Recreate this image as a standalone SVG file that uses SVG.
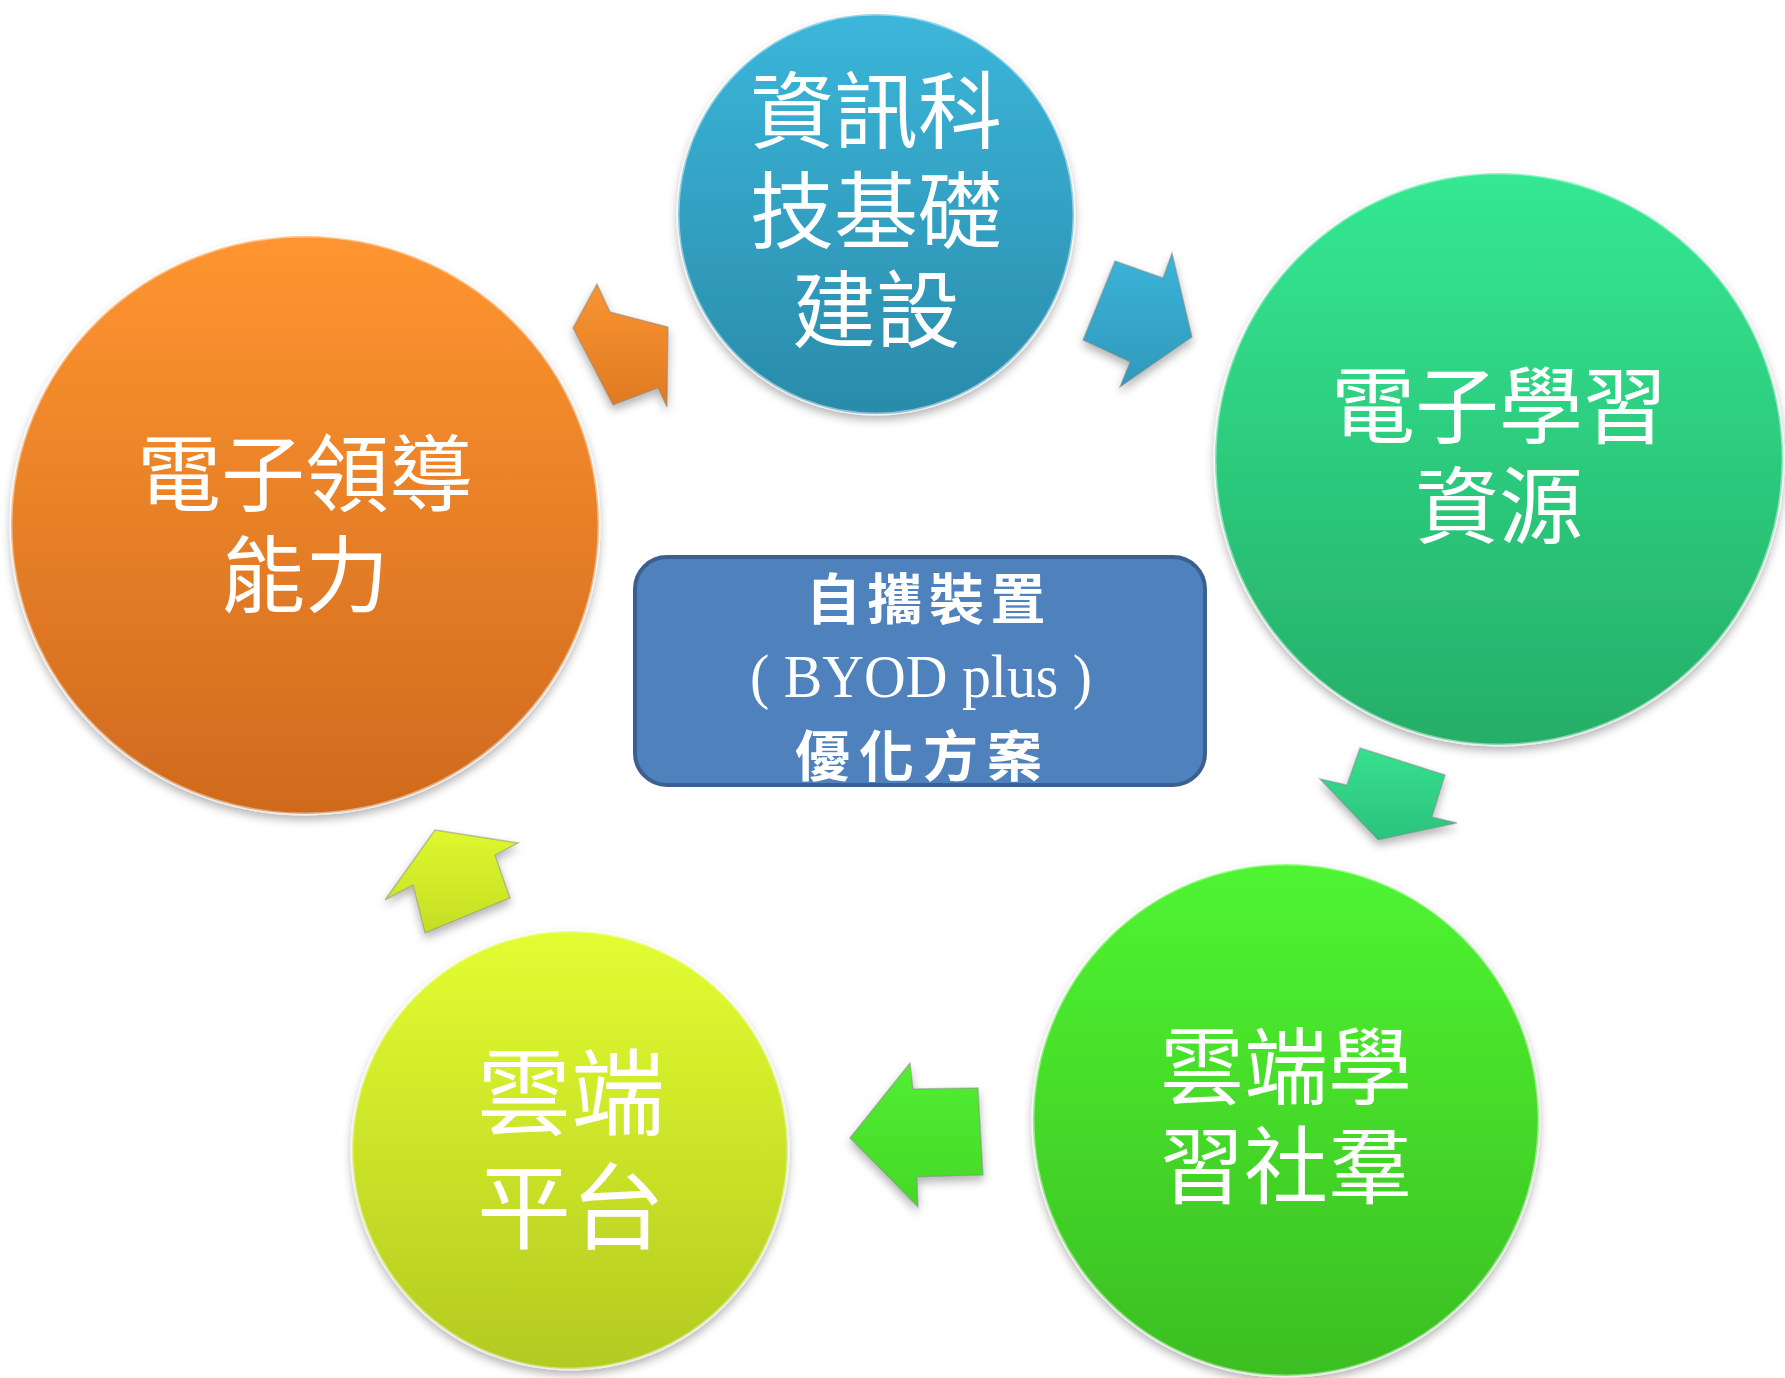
<svg xmlns="http://www.w3.org/2000/svg" width="1785" height="1378" viewBox="0 0 1785 1378">
<defs>
<linearGradient id="gBlue" x1="0" y1="0" x2="0" y2="1"><stop offset="0" stop-color="#3BB6DA"/><stop offset="1" stop-color="#2A8BAA"/></linearGradient>
<linearGradient id="gGreen" x1="0" y1="0" x2="0" y2="1"><stop offset="0" stop-color="#34E892"/><stop offset="1" stop-color="#25AE68"/></linearGradient>
<linearGradient id="gLime" x1="0" y1="0" x2="0" y2="1"><stop offset="0" stop-color="#4FF531"/><stop offset="1" stop-color="#3BBE22"/></linearGradient>
<linearGradient id="gYellow" x1="0" y1="0" x2="0" y2="1"><stop offset="0" stop-color="#E2FD31"/><stop offset="1" stop-color="#B3CA20"/></linearGradient>
<linearGradient id="gOrange" x1="0" y1="0" x2="0" y2="1"><stop offset="0" stop-color="#FF9530"/><stop offset="1" stop-color="#CF6A1E"/></linearGradient>
<linearGradient id="aOrange" x1="0" y1="0" x2="0" y2="1"><stop offset="0" stop-color="#F99433"/><stop offset="1" stop-color="#E07A22"/></linearGradient>
<linearGradient id="aBlue" x1="0" y1="0" x2="0" y2="1"><stop offset="0" stop-color="#3BB4D8"/><stop offset="1" stop-color="#3098BC"/></linearGradient>
<linearGradient id="aGreen" x1="0" y1="0" x2="0" y2="1"><stop offset="0" stop-color="#36E18F"/><stop offset="1" stop-color="#2CC27C"/></linearGradient>
<linearGradient id="aLime" x1="0" y1="0" x2="0" y2="1"><stop offset="0" stop-color="#52EE33"/><stop offset="1" stop-color="#44D826"/></linearGradient>
<linearGradient id="aYellow" x1="0" y1="0" x2="0" y2="1"><stop offset="0" stop-color="#DDF82E"/><stop offset="1" stop-color="#C4DE24"/></linearGradient>
<filter id="sh" x="-10%" y="-10%" width="120%" height="125%"><feDropShadow dx="0" dy="5" stdDeviation="5" flood-color="#000" flood-opacity="0.3"/></filter>
</defs>
<style>
.circ{stroke:#ffffff;stroke-opacity:0.45;stroke-width:3;filter:url(#sh)}
.arr{stroke:#8a8a8a;stroke-opacity:0.5;stroke-width:1.5;stroke-linejoin:miter;filter:url(#sh)}
.ct{font-family:"Liberation Sans","Noto Sans CJK TC","Noto Sans CJK SC",sans-serif;fill:#ffffff;text-anchor:middle}
.bt{font-family:"Liberation Sans","Noto Sans CJK TC","Noto Sans CJK SC",sans-serif;fill:#ffffff;font-weight:bold}
</style>
<rect width="1785" height="1378" fill="#ffffff"/>
<g id="connectors">
<polygon class="arr" fill="url(#aOrange)" points="597,284 610,312 668,327 667,407 658,388 613,405 573,328"/>
<polygon class="arr" fill="url(#aBlue)" points="1115,261 1163,278 1172,253 1192,337 1120,387 1130,362 1083,340"/>
<polygon class="arr" fill="url(#aGreen)" points="1360,748 1445,775 1432,817 1457,823 1378,840 1320,779 1347,785"/>
<polygon class="arr" fill="url(#aLime)" points="910,1063 913,1089 978,1088 983,1175 917,1177 918,1207 850,1138"/>
<polygon class="arr" fill="url(#aYellow)" points="435,830 518,843 495,855 510,898 425,933 413,885 385,900"/>
</g>
<g id="node-ict">
<ellipse class="circ" cx="876" cy="214" rx="198" ry="200" fill="url(#gBlue)"/>
<text class="ct" font-size="84"><tspan x="876" y="142">資訊科</tspan><tspan x="876" y="242">技基礎</tspan><tspan x="876" y="341">建設</tspan></text>
</g>
<g id="node-resources">
<ellipse class="circ" cx="1499" cy="459" rx="284" ry="286" fill="url(#gGreen)"/>
<text class="ct" font-size="84"><tspan x="1499" y="437">電子學習</tspan><tspan x="1499" y="537">資源</tspan></text>
</g>
<g id="node-community">
<ellipse class="circ" cx="1286" cy="1120" rx="253" ry="256" fill="url(#gLime)"/>
<text class="ct" font-size="84"><tspan x="1286" y="1098">雲端學</tspan><tspan x="1286" y="1197">習社羣</tspan></text>
</g>
<g id="node-cloud">
<ellipse class="circ" cx="570" cy="1150" rx="218" ry="219" fill="url(#gYellow)"/>
<text class="ct" font-size="94"><tspan x="571" y="1128">雲端</tspan><tspan x="571" y="1242">平台</tspan></text>
</g>
<g id="node-leadership">
<ellipse class="circ" cx="305" cy="525" rx="294" ry="289" fill="url(#gOrange)"/>
<text class="ct" font-size="84"><tspan x="305" y="505">電子領導</tspan><tspan x="305" y="606">能力</tspan></text>
</g>
<g id="node-byod">
<rect x="635" y="557" width="570" height="228" rx="32" ry="32" fill="#4F81BD" stroke="#3B5F8E" stroke-width="4"/>
<text class="bt" font-size="55" x="806" y="619" letter-spacing="6.5">自攜裝置</text>
<text font-family="'Liberation Serif',serif" font-size="62" fill="#ffffff" x="750" y="697" textLength="342" lengthAdjust="spacingAndGlyphs">( BYOD plus )</text>
<text class="bt" font-size="55" x="795" y="776" letter-spacing="9">優化方案</text>
</g>
</svg>
